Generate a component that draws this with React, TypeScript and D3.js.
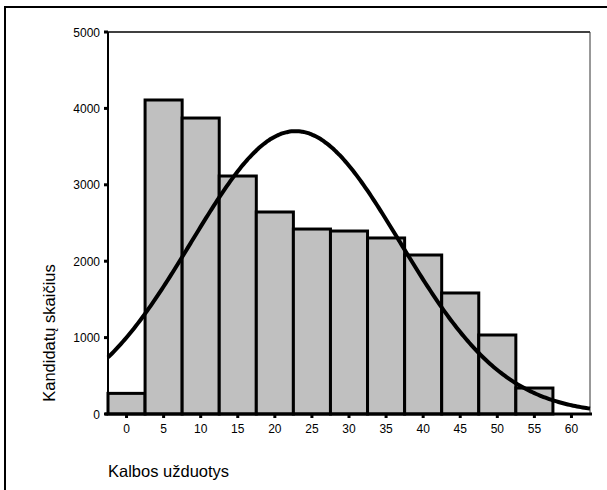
import React from "react";
import * as d3 from "d3";

const binCenters = [0, 5, 10, 15, 20, 25, 30, 35, 40, 45, 50, 55];
const binCounts = [270, 4110, 3874, 3115, 2644, 2421, 2395, 2304, 2081, 1584, 1034, 340];
const xTicks = [0, 5, 10, 15, 20, 25, 30, 35, 40, 45, 50, 55, 60];
const yTicks = [0, 1000, 2000, 3000, 4000, 5000];
const binWidth = 5;
const curveMean = 22.8;
const curveSd = 14.1;
const totalN = 26172;
const xTitle = "Kalbos užduotys";
const yTitle = "Kandidatų skaičius";

export default function App() {
  const W = 607, H = 490;
  const left = 108, right = 590, top = 32, bottom = 414;
  const x = d3.scaleLinear().domain([-2.5, 62.5]).range([left, right]);
  const y = d3.scaleLinear().domain([0, 5000]).range([bottom, top]);
  const font = "Arial, 'Liberation Sans', Helvetica, sans-serif";

  const pdf = (v: number) =>
    (totalN * binWidth) / (curveSd * Math.sqrt(2 * Math.PI)) *
    Math.exp(-0.5 * ((v - curveMean) / curveSd) ** 2);
  const xs = d3.range(-2.5, 62.51, 0.25);
  const line = d3.line<number>().x((d) => x(d)).y((d) => y(pdf(d))).curve(d3.curveBasis);

  return (
    <svg width={W} height={H} style={{ position: "absolute", left: 0, top: 0, background: "#fff" }}>
      <rect x={5} y={7} width={800} height={700} fill="#fff" stroke="#000" strokeWidth={2} />
      {/* plot frame */}
      <line x1={left} x2={right} y1={top} y2={top} stroke="#000" strokeWidth={1.5} />
      <line x1={right} x2={right} y1={top} y2={bottom} stroke="#333" strokeWidth={1} />
      {/* bars */}
      {binCenters.map((c, i) => (
        <rect
          key={c}
          x={x(c - binWidth / 2)}
          y={y(binCounts[i])}
          width={x(c + binWidth / 2) - x(c - binWidth / 2)}
          height={y(0) - y(binCounts[i])}
          fill="#c0c0c0"
          stroke="#000"
          strokeWidth={3}
        />
      ))}
      {/* normal curve */}
      <path d={line(xs) || ""} fill="none" stroke="#000" strokeWidth={4} />
      {/* y axis */}
      <line x1={left} x2={left} y1={top} y2={bottom} stroke="#000" strokeWidth={2} />
      {yTicks.map((t) => (
        <g key={t}>
          <rect x={left - 4} y={y(t) - 1.5} width={4} height={3} fill="#000" />
          <text x={100} y={y(t) + 4.5} textAnchor="end" fontFamily={font} fontSize={12}>{t}</text>
        </g>
      ))}
      {/* x axis */}
      <line x1={left - 3} x2={592} y1={bottom} y2={bottom} stroke="#000" strokeWidth={3} />
      {xTicks.map((t) => (
        <g key={t}>
          <rect x={x(t) - 1.5} y={bottom} width={3} height={4} fill="#000" />
          <text x={x(t)} y={433} textAnchor="middle" fontFamily={font} fontSize={12}>{t}</text>
        </g>
      ))}
      <text x={108} y={477} fontFamily={font} fontSize={16.5}>{xTitle}</text>
      <text transform={`translate(54.5,333) rotate(-90)`} textAnchor="middle" fontFamily={font} fontSize={16.5}>{yTitle}</text>
    </svg>
  );
}
